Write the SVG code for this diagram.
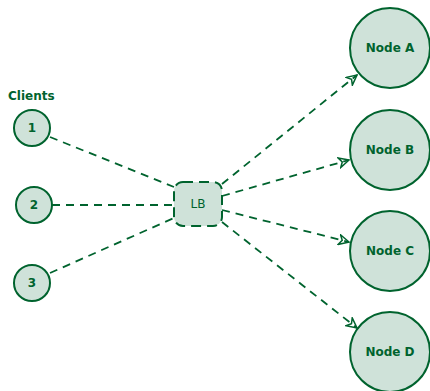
<svg xmlns="http://www.w3.org/2000/svg" width="430" height="391" viewBox="0 0 430 391">
<style>
.n{fill:#cfe2d9;stroke:#00632e;stroke-width:2}
.lb{fill:#cfe2d9;stroke:#00632e;stroke-width:2;stroke-dasharray:10 6}
.t{font-family:"DejaVu Sans",sans-serif;font-size:12px;font-weight:bold;fill:#00632e;text-anchor:middle}
.e{stroke:#00632e;stroke-width:1.8;stroke-dasharray:8 6;fill:none}
</style>
<defs>
<marker id="ar" viewBox="0 0 12 12" refX="11" refY="6" markerWidth="12" markerHeight="12" markerUnits="userSpaceOnUse" orient="auto">
<path d="M1,1 L11,6 L1,11 L4,6 Z" fill="none" stroke="#00632e" stroke-width="1.5" stroke-linejoin="miter"/>
</marker>
</defs>
<text x="8" y="100" style="font-family:'DejaVu Sans',sans-serif;font-size:12px;font-weight:bold;fill:#00632e">Clients</text>
<g id="edges">
<line class="e" x1="50" y1="137" x2="174" y2="187"/>
<line class="e" x1="52" y1="205" x2="174" y2="205"/>
<line class="e" x1="50" y1="273" x2="174" y2="218"/>
<line class="e" x1="222" y1="184" x2="357" y2="75" marker-end="url(#ar)"/>
<line class="e" x1="222" y1="196" x2="349" y2="160" marker-end="url(#ar)"/>
<line class="e" x1="222" y1="210" x2="349" y2="242" marker-end="url(#ar)"/>
<line class="e" x1="222" y1="222" x2="357" y2="328" marker-end="url(#ar)"/>
</g>
<g id="c1"><circle class="n" cx="32" cy="128" r="18"/><text class="t" x="32" y="132">1</text></g>
<g id="c2"><circle class="n" cx="34" cy="205" r="18"/><text class="t" x="34" y="209">2</text></g>
<g id="c3"><circle class="n" cx="32" cy="283" r="18"/><text class="t" x="32" y="287">3</text></g>
<g id="lb"><rect class="lb" x="174" y="182" width="48" height="44" rx="9"/><text x="198" y="208" style="font-family:'DejaVu Sans',sans-serif;font-size:12px;fill:#00632e;text-anchor:middle">LB</text></g>
<g id="nA"><circle class="n" cx="390" cy="48" r="40"/><text class="t" x="390" y="52">Node A</text></g>
<g id="nB"><circle class="n" cx="390" cy="150" r="40"/><text class="t" x="390" y="154">Node B</text></g>
<g id="nC"><circle class="n" cx="390" cy="251" r="40"/><text class="t" x="390" y="255">Node C</text></g>
<g id="nD"><circle class="n" cx="390" cy="352" r="40"/><text class="t" x="390" y="356">Node D</text></g>
</svg>
